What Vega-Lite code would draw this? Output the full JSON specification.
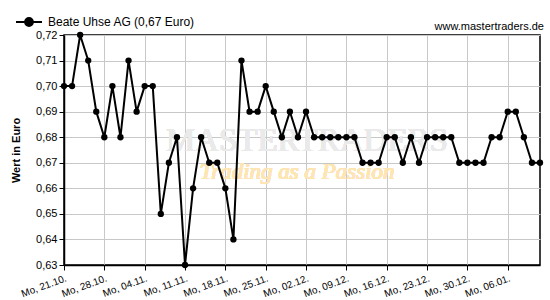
{
  "$schema": "https://vega.github.io/schema/vega-lite/v6.json",
  "width": 476,
  "height": 230,
  "autosize": {"type": "none"},
  "padding": {"left": 64, "top": 35, "right": 10, "bottom": 35},
  "background": "white",
  "config": {
    "font": "Liberation Sans",
    "view": {"stroke": "black", "strokeWidth": 1.5}
  },
  "title": {
    "text": "www.mastertraders.de",
    "anchor": "end",
    "fontSize": 11,
    "fontWeight": "normal",
    "color": "black",
    "offset": -24,
    "font": "Liberation Sans"
  },
  "data": {
    "values": [
      {"t": 0, "wert": 0.70}, {"t": 1, "wert": 0.70}, {"t": 2, "wert": 0.72}, {"t": 3, "wert": 0.71},
      {"t": 4, "wert": 0.69}, {"t": 5, "wert": 0.68}, {"t": 6, "wert": 0.70}, {"t": 7, "wert": 0.68},
      {"t": 8, "wert": 0.71}, {"t": 9, "wert": 0.69}, {"t": 10, "wert": 0.70}, {"t": 11, "wert": 0.70},
      {"t": 12, "wert": 0.65}, {"t": 13, "wert": 0.67}, {"t": 14, "wert": 0.68}, {"t": 15, "wert": 0.63},
      {"t": 16, "wert": 0.66}, {"t": 17, "wert": 0.68}, {"t": 18, "wert": 0.67}, {"t": 19, "wert": 0.67},
      {"t": 20, "wert": 0.66}, {"t": 21, "wert": 0.64}, {"t": 22, "wert": 0.71}, {"t": 23, "wert": 0.69},
      {"t": 24, "wert": 0.69}, {"t": 25, "wert": 0.70}, {"t": 26, "wert": 0.69}, {"t": 27, "wert": 0.68},
      {"t": 28, "wert": 0.69}, {"t": 29, "wert": 0.68}, {"t": 30, "wert": 0.69}, {"t": 31, "wert": 0.68},
      {"t": 32, "wert": 0.68}, {"t": 33, "wert": 0.68}, {"t": 34, "wert": 0.68}, {"t": 35, "wert": 0.68},
      {"t": 36, "wert": 0.68}, {"t": 37, "wert": 0.67}, {"t": 38, "wert": 0.67}, {"t": 39, "wert": 0.67},
      {"t": 40, "wert": 0.68}, {"t": 41, "wert": 0.68}, {"t": 42, "wert": 0.67}, {"t": 43, "wert": 0.68},
      {"t": 44, "wert": 0.67}, {"t": 45, "wert": 0.68}, {"t": 46, "wert": 0.68}, {"t": 47, "wert": 0.68},
      {"t": 48, "wert": 0.68}, {"t": 49, "wert": 0.67}, {"t": 50, "wert": 0.67}, {"t": 51, "wert": 0.67},
      {"t": 52, "wert": 0.67}, {"t": 53, "wert": 0.68}, {"t": 54, "wert": 0.68}, {"t": 55, "wert": 0.69},
      {"t": 56, "wert": 0.69}, {"t": 57, "wert": 0.68}, {"t": 58, "wert": 0.67}, {"t": 59, "wert": 0.67}
    ]
  },
  "encoding": {
    "x": {
      "field": "t",
      "type": "quantitative",
      "scale": {"domain": [0, 59], "nice": false, "zero": false},
      "axis": {
        "title": null,
        "values": [0, 5, 10, 15, 20, 25, 30, 35, 40, 45, 50, 55],
        "labelExpr": "['Mo, 21.10.','Mo, 28.10.','Mo, 04.11.','Mo, 11.11.','Mo, 18.11.','Mo, 25.11.','Mo, 02.12.','Mo, 09.12.','Mo, 16.12.','Mo, 23.12.','Mo, 30.12.','Mo, 06.01.'][round(datum.value/5)]",
        "labelAngle": -20,
        "labelAlign": "right",
        "labelBaseline": "top",
        "labelFontSize": 10,
        "labelColor": "black",
        "labelPadding": 3,
        "labelOverlap": false,
        "labelBound": false,
        "labelFlush": false,
        "grid": true,
        "gridColor": "#c8c8c8",
        "domainColor": "black",
        "domainWidth": 1.5,
        "tickColor": "black",
        "tickSize": 5
      }
    },
    "y": {
      "field": "wert",
      "type": "quantitative",
      "scale": {"domain": [0.63, 0.72], "nice": false, "zero": false},
      "axis": {
        "title": "Wert in Euro",
        "titleFontWeight": "bold",
        "titleFontSize": 11,
        "titleColor": "black",
        "titlePadding": 14,
        "values": [0.63, 0.64, 0.65, 0.66, 0.67, 0.68, 0.69, 0.70, 0.71, 0.72],
        "labelExpr": "replace(format(datum.value, '.2f'), '.', ',')",
        "labelFontSize": 11,
        "labelColor": "black",
        "labelPadding": 2,
        "grid": true,
        "gridColor": "#c8c8c8",
        "domainColor": "black",
        "domainWidth": 1.5,
        "tickColor": "black",
        "tickSize": 5
      }
    }
  },
  "layer": [
    {
      "mark": {"type": "text", "text": "MASTERTRADERS", "font": "Liberation Serif", "fontSize": 33, "color": "#eaeaea"},
      "encoding": {
        "x": {"datum": 30.1, "type": "quantitative"},
        "y": {"datum": 0.6785, "type": "quantitative"}
      }
    },
    {
      "mark": {"type": "text", "text": "Trading as a Passion", "font": "Liberation Serif", "fontStyle": "italic", "fontSize": 23, "color": "#fde6b4"},
      "encoding": {
        "x": {"datum": 28.9, "type": "quantitative"},
        "y": {"datum": 0.6665, "type": "quantitative"}
      }
    },
    {
      "mark": {
        "type": "line",
        "strokeWidth": 2,
        "point": {"filled": true, "size": 40}
      },
      "encoding": {
        "color": {
          "datum": "Beate Uhse AG (0,67 Euro)",
          "scale": {"range": ["black"]},
          "legend": {
            "title": null,
            "orient": "none",
            "legendX": -49,
            "legendY": -27,
            "symbolType": "M -1 0 L 1 0 M -0.3 0 A 0.3 0.3 0 1 0 0.3 0 A 0.3 0.3 0 1 0 -0.3 0 Z",
            "symbolSize": 676,
            "symbolStrokeWidth": 2,
            "symbolFillColor": "black",
            "symbolStrokeColor": "black",
            "labelFontSize": 12,
            "labelColor": "black",
            "labelOffset": 5
          }
        }
      }
    }
  ]
}
